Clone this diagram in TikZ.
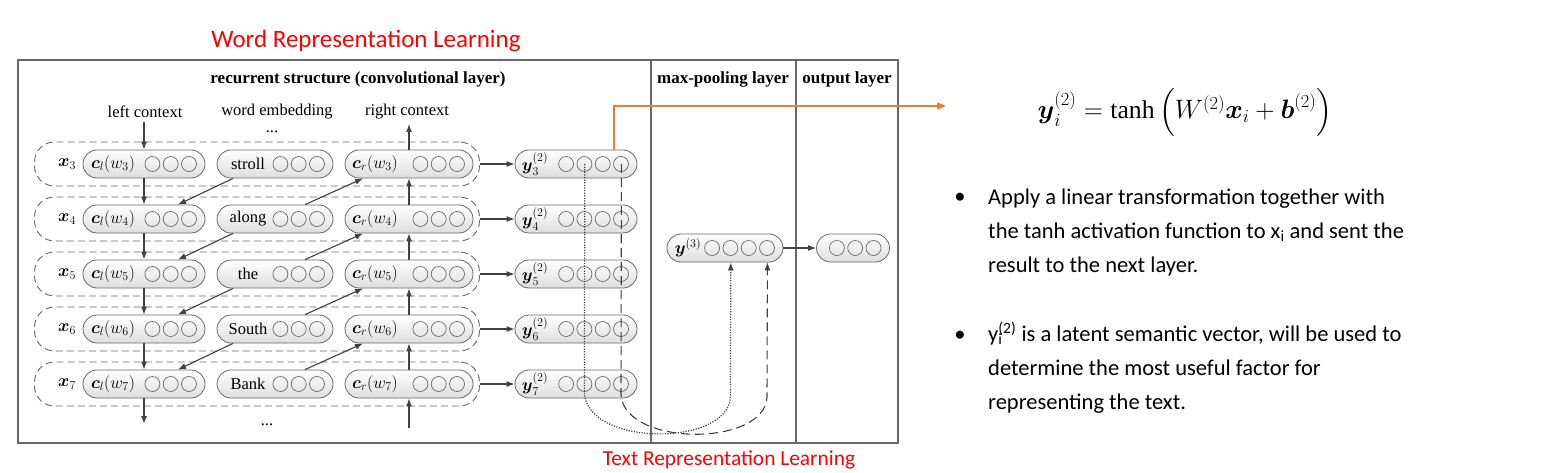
\documentclass[tikz,border=0pt]{standalone}
\usepackage{amsmath}
\usepackage{graphicx}
\usepackage{fontspec}
\setmainfont{Liberation Serif}
\newfontfamily\slidefont{Carlito}
\usetikzlibrary{arrows.meta}
\definecolor{linegray}{RGB}{65,65,65}
\definecolor{boxgray}{RGB}{105,105,105}
\definecolor{slideorange}{RGB}{237,125,49}

\begin{document}
\begin{tikzpicture}[x=1pt,y=-1pt,
    font=\fontsize{16.5}{18}\selectfont,
    unit/.style={draw=boxgray, line width=0.8pt, rounded corners=14pt, minimum height=28pt,
      inner sep=0pt, top color=white, bottom color=black!13, align=left},
    cells/.style={path picture={\foreach \k in {1,...,#1}
      \draw[boxgray, line width=0.7pt] ([xshift={-16pt-(\k-1)*18.3pt}]path picture bounding box.east) circle (7.5pt);}},
    ctxl/.style={unit, cells=3, text width=122pt},
    embed/.style={unit, cells=3, text width=116pt},
    ctxr/.style={unit, cells=3, text width=128pt},
    hidden/.style={unit, cells=4, text width=122pt},
    rowbox/.style={draw=boxgray, line width=0.9pt, dash pattern=on 7pt off 4pt, rounded corners=20pt,
      minimum width=445pt, minimum height=44pt},
    arr/.style={draw=linegray, line width=1.1pt, -{Latex[length=8pt,width=6pt]}},
    slide/.style={font=\slidefont\fontsize{22.5}{34}\selectfont, inner sep=0pt},
  ]
  \useasboundingbox (0,0) rectangle (1552,473);

  \draw[boxgray, line width=1.2pt] (18,60) rectangle (898,443);
  \draw[boxgray, line width=1.2pt] (651,60) -- (651,443);
  \draw[boxgray, line width=1.2pt] (796,60) -- (796,443);

  \node[red, font=\slidefont\fontsize{25}{28}\selectfont, anchor=base] (wrl) at (366,48) {Word Representation Learning};
  \node[red, font=\slidefont\fontsize{21.4}{24}\selectfont, anchor=base] (trl) at (729,465) {Text Representation Learning};

  \node[font=\fontsize{17}{18}\selectfont\bfseries] (rec) at (358,79) {recurrent structure (convolutional layer)};
  \node[font=\fontsize{17}{18}\selectfont\bfseries] (maxp) at (723,79) {max-pooling layer};
  \node[font=\fontsize{17}{18}\selectfont\bfseries] (outl) at (847,79) {output layer};

  \node (lctx) at (145,112) {left context};
  \node (wemb) at (277,112) {word embedding};
  \node (rctx) at (407,112) {right context};
  \node[anchor=base] (dtop) at (272,133) {...};
  \node[anchor=base] (dbot) at (267,425) {...};

  \coordinate (ltop) at (144,122);
  \coordinate (lbot) at (144,424);
  \coordinate (rtop) at (409,124);
  \coordinate (rbot) at (409,428);

  \node[rowbox] (r3) at (257,164) {};
  \node[rowbox] (r4) at (257,219) {};
  \node[rowbox] (r5) at (257,274) {};
  \node[rowbox] (r6) at (257,329) {};
  \node[rowbox] (r7) at (257,384) {};

  \node (x3) at (67,164) {$\boldsymbol{x}_3$};
  \node (x4) at (67,219) {$\boldsymbol{x}_4$};
  \node (x5) at (67,274) {$\boldsymbol{x}_5$};
  \node (x6) at (67,329) {$\boldsymbol{x}_6$};
  \node (x7) at (67,384) {$\boldsymbol{x}_7$};

  \node[ctxl] (cl3) at (144,164) {\makebox[60pt]{$\boldsymbol{c}_l(w_3)$}};
  \node[ctxl] (cl4) at (144,219) {\makebox[60pt]{$\boldsymbol{c}_l(w_4)$}};
  \node[ctxl] (cl5) at (144,274) {\makebox[60pt]{$\boldsymbol{c}_l(w_5)$}};
  \node[ctxl] (cl6) at (144,329) {\makebox[60pt]{$\boldsymbol{c}_l(w_6)$}};
  \node[ctxl] (cl7) at (144,384) {\makebox[60pt]{$\boldsymbol{c}_l(w_7)$}};

  \node[embed] (w3) at (275,164) {\makebox[62pt]{stroll}};
  \node[embed] (w4) at (275,219) {\makebox[62pt]{along}};
  \node[embed] (w5) at (275,274) {\makebox[62pt]{the}};
  \node[embed] (w6) at (275,329) {\makebox[62pt]{South}};
  \node[embed] (w7) at (275,384) {\makebox[62pt]{Bank}};

  \node[ctxr] (cr3) at (409,164) {\makebox[60pt]{$\boldsymbol{c}_r(w_3)$}};
  \node[ctxr] (cr4) at (409,219) {\makebox[60pt]{$\boldsymbol{c}_r(w_4)$}};
  \node[ctxr] (cr5) at (409,274) {\makebox[60pt]{$\boldsymbol{c}_r(w_5)$}};
  \node[ctxr] (cr6) at (409,329) {\makebox[60pt]{$\boldsymbol{c}_r(w_6)$}};
  \node[ctxr] (cr7) at (409,384) {\makebox[60pt]{$\boldsymbol{c}_r(w_7)$}};

  \node[hidden] (y3) at (576,164) {\makebox[40pt]{$\boldsymbol{y}_3^{(2)}$}};
  \node[hidden] (y4) at (576,219) {\makebox[40pt]{$\boldsymbol{y}_4^{(2)}$}};
  \node[hidden] (y5) at (576,274) {\makebox[40pt]{$\boldsymbol{y}_5^{(2)}$}};
  \node[hidden] (y6) at (576,329) {\makebox[40pt]{$\boldsymbol{y}_6^{(2)}$}};
  \node[hidden] (y7) at (576,384) {\makebox[40pt]{$\boldsymbol{y}_7^{(2)}$}};

  \node[unit, cells=4, text width=116pt] (pool) at (725,248) {\makebox[42pt]{$\boldsymbol{y}^{(3)}$}};
  \node[unit, cells=3, text width=73pt] (out) at (853,248) {};

  \path (ltop) edge[arr] (cl3);
  \path (cl3) edge[arr] (cl4);
  \path (cl4) edge[arr] (cl5);
  \path (cl5) edge[arr] (cl6);
  \path (cl6) edge[arr] (cl7);
  \path (cl7) edge[arr] (lbot);

  \path (cr3) edge[arr] (rtop);
  \path (cr4) edge[arr] (cr3);
  \path (cr5) edge[arr] (cr4);
  \path (cr6) edge[arr] (cr5);
  \path (cr7) edge[arr] (cr6);
  \path (rbot) edge[arr] (cr7);

  \path ([xshift=-42pt]w3.south) edge[arr] ([xshift=34pt]cl4.north);
  \path ([xshift=-42pt]w4.south) edge[arr] ([xshift=34pt]cl5.north);
  \path ([xshift=-42pt]w5.south) edge[arr] ([xshift=34pt]cl6.north);
  \path ([xshift=-42pt]w6.south) edge[arr] ([xshift=34pt]cl7.north);
  \path ([xshift=30pt]w4.north) edge[arr] ([xshift=-46pt]cr3.south);
  \path ([xshift=30pt]w5.north) edge[arr] ([xshift=-46pt]cr4.south);
  \path ([xshift=30pt]w6.north) edge[arr] ([xshift=-46pt]cr5.south);
  \path ([xshift=30pt]w7.north) edge[arr] ([xshift=-46pt]cr6.south);

  \path (r3) edge[arr] (y3);
  \path (r4) edge[arr] (y4);
  \path (r5) edge[arr] (y5);
  \path (r6) edge[arr] (y6);
  \path (r7) edge[arr] (y7);
  \path (pool) edge[arr] (out);

  \draw[linegray, line width=1.2pt, dash pattern=on 1.2pt off 1.4pt, -{Latex[length=8pt,width=6pt]}]
    ([xshift=-52.6pt]y3.east) -- (584.4,392) .. controls (586,447) and (728,447) .. (730.4,397)
    -- ([xshift=-52.6pt]pool.south east);
  \draw[linegray, line width=1.1pt, dash pattern=on 9pt off 5pt, -{Latex[length=8pt,width=6pt]}]
    ([xshift=-16pt]y3.east) -- (621,395) .. controls (625,447) and (765,447) .. (767,397)
    -- ([xshift=-16pt]pool.south east);

  \coordinate (eqin) at (946,106);
  \draw[slideorange, line width=1.3pt, -{Triangle[length=9pt,width=7pt]}] ([xshift=38pt]y3.north) |- (eqin);

  \node[font=\fontsize{24}{28}\selectfont, anchor=base] (eq) at (1185,119)
    {\scalebox{1.07}{$\boldsymbol{y}_i^{(2)} = \tanh\left(W^{(2)}\boldsymbol{x}_i + \boldsymbol{b}^{(2)}\right)$}};

  \node[slide] (b1) at (960,198) {\textbullet};
  \node[slide, anchor=base west, align=left] (t1) at (988,272)
    {Apply a linear transformation together with\\the tanh activation function to x\textsubscript{i} and sent the\\result to the next layer.};
  \node[slide] (b2) at (960,336) {\textbullet};
  \node[slide, anchor=base west, align=left] (t2) at (988,409)
    {y\rlap{\textsubscript{i}}\textsuperscript{(2)} is a latent semantic vector, will be used to\\determine the most useful factor for\\representing the text.};
\end{tikzpicture}
\end{document}
